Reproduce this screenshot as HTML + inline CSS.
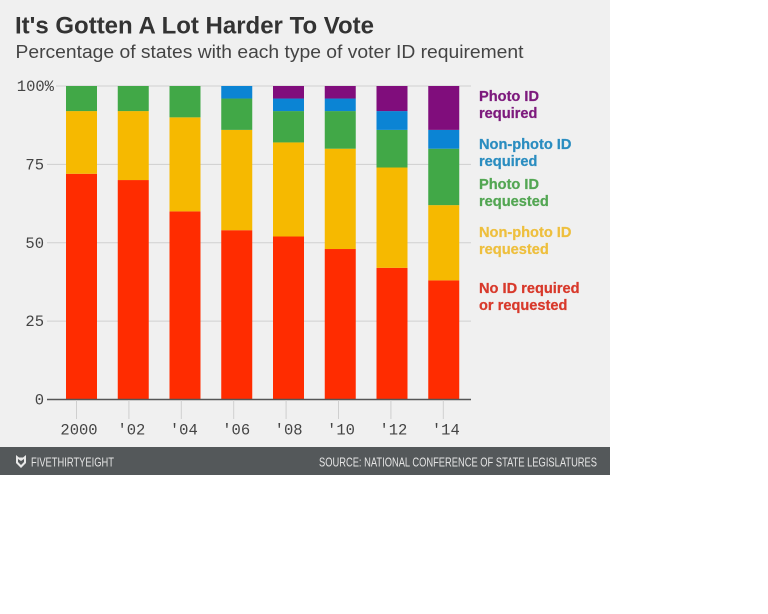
<!DOCTYPE html>
<html lang="en">
<head>
<meta charset="utf-8">
<title>It's Gotten A Lot Harder To Vote</title>
<style>
html,body{margin:0;padding:0;background:#fff;width:768px;height:614px;overflow:hidden}
svg{display:block;font-family:"Liberation Sans",sans-serif}
</style>
</head>
<body>
<svg id="chart" width="768" height="614" viewBox="0 0 768 614" xmlns="http://www.w3.org/2000/svg">
  <rect x="0" y="0" width="610" height="475" fill="#f0f0f0"/>
  <text x="15" y="33.5" font-size="24.5" font-weight="700" fill="#333" textLength="359" lengthAdjust="spacingAndGlyphs">It's Gotten A Lot Harder To Vote</text>
  <text x="15.5" y="58" font-size="18.5" fill="#444" textLength="508" lengthAdjust="spacingAndGlyphs">Percentage of states with each type of voter ID requirement</text>
  <g id="grid"></g>
  <g id="bars"></g>
  <g id="axis"></g>
  <g font-size="14.6" font-weight="700" stroke-width="0.25">
    <text fill="#7d1a7d" stroke="#7d1a7d"><tspan x="479" y="101">Photo ID</tspan><tspan x="479" y="118">required</tspan></text>
    <text fill="#2a8dc0" stroke="#2a8dc0"><tspan x="479" y="149">Non-photo ID</tspan><tspan x="479" y="166">required</tspan></text>
    <text fill="#53a653" stroke="#53a653"><tspan x="479" y="189">Photo ID</tspan><tspan x="479" y="206">requested</tspan></text>
    <text fill="#eebf3d" stroke="#eebf3d"><tspan x="479" y="237">Non-photo ID</tspan><tspan x="479" y="254">requested</tspan></text>
    <text fill="#d8392b" stroke="#d8392b"><tspan x="479" y="293">No ID required</tspan><tspan x="479" y="310">or requested</tspan></text>
  </g>
  <rect x="0" y="447" width="610" height="28" fill="#54585a"/>
  <path d="M16 455l3 2.500h4l3-2.500v8l-5 5-5-5zM18 459l3 2 3-2v3l-3 3-3-3z" fill="#e8e8e8" fill-rule="evenodd"/>
  <text x="31" y="466.500" font-size="12.500" fill="#e4e4e4" textLength="83" lengthAdjust="spacingAndGlyphs">FIVETHIRTYEIGHT</text>
  <text x="319" y="466.500" font-size="12.500" fill="#e4e4e4" textLength="278" lengthAdjust="spacingAndGlyphs">SOURCE: NATIONAL CONFERENCE OF STATE LEGISLATURES</text>
</svg>
<script>
const categories = ["2000", "'02", "'04", "'06", "'08", "'10", "'12", "'14"];
const noId = [72, 70, 60, 54, 52, 48, 42, 38];
const nonPhotoRequested = [20, 22, 30, 32, 30, 32, 32, 24];
const photoRequested = [8, 8, 10, 10, 10, 12, 12, 18];
const nonPhotoRequired = [0, 0, 0, 4, 4, 4, 6, 6];
const photoRequired = [0, 0, 0, 0, 4, 4, 8, 14];
const yTicks = [0, 25, 50, 75, 100];
const yTickLabels = ["0", "25", "50", "75", "100%"];

const NS = "http://www.w3.org/2000/svg";
const MONO = '"Liberation Mono", monospace';
const stackOrder = [
  {name: "no-id", values: noId, color: "#ff2c00"},
  {name: "non-photo-requested", values: nonPhotoRequested, color: "#f6b900"},
  {name: "photo-requested", values: photoRequested, color: "#41a847"},
  {name: "non-photo-required", values: nonPhotoRequired, color: "#0b84d4"},
  {name: "photo-required", values: photoRequired, color: "#800d7c"}
];
function yScale(v) { return 399.5 - v * 3.135; }
function barX(i) { return 66 + i * 51.75; }
function tickX(i) { return 76.5 + i * 52.4; }
function labelX(i) { return 79 + i * 52.4; }
const BAR_W = 31;

const grid = document.getElementById("grid");
const bars = document.getElementById("bars");
const axis = document.getElementById("axis");

yTicks.forEach(function (t, i) {
  const line = document.createElementNS(NS, "line");
  
  
  const isZero = t === 0;
  line.setAttribute("x1", i === 4 ? 56 : 47);
  line.setAttribute("x2", 471);
  line.setAttribute("y1", yScale(t));
  line.setAttribute("y2", yScale(t));
  line.setAttribute("stroke", isZero ? "#555" : "#cfcfcf");
  line.setAttribute("stroke-width", isZero ? 1.4 : 1);
  (isZero ? axis : grid).appendChild(line);

  const label = document.createElementNS(NS, "text");
  
  
  label.setAttribute("x", i === 4 ? 54 : 44);
  label.setAttribute("y", yScale(t) + 5);
  label.setAttribute("text-anchor", "end");
  label.setAttribute("font-size", "15.5");
  label.setAttribute("font-family", MONO);
  label.setAttribute("fill", "#444");
  label.textContent = yTickLabels[i];
  axis.appendChild(label);
});

categories.forEach(function (c, i) {
  let base = 0;
  stackOrder.forEach(function (s) {
    const v = s.values[i];
    if (v > 0) {
      const r = document.createElementNS(NS, "rect");
      
      
      r.setAttribute("x", barX(i));
      r.setAttribute("width", BAR_W);
      r.setAttribute("y", yScale(base + v));
      r.setAttribute("height", yScale(base) - yScale(base + v));
      r.setAttribute("fill", s.color);
      bars.appendChild(r);
    }
    base += v;
  });

  const tick = document.createElementNS(NS, "line");
  
  
  tick.setAttribute("x1", tickX(i));
  tick.setAttribute("x2", tickX(i));
  tick.setAttribute("y1", 400);
  tick.setAttribute("y2", 419);
  tick.setAttribute("stroke", "#cfcfcf");
  axis.appendChild(tick);

  const lab = document.createElementNS(NS, "text");
  
  
  lab.setAttribute("x", labelX(i));
  lab.setAttribute("y", 434.5);
  lab.setAttribute("text-anchor", "middle");
  lab.setAttribute("font-size", "15.5");
  lab.setAttribute("font-family", MONO);
  lab.setAttribute("fill", "#444");
  lab.textContent = c;
  axis.appendChild(lab);
});
</script>
</body>
</html>
